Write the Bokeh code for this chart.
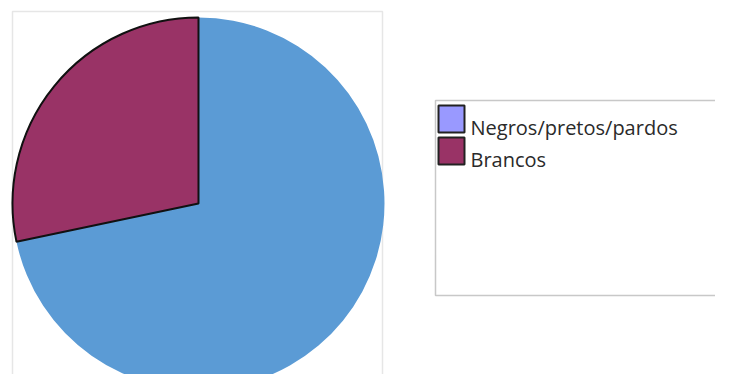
import numpy as np
from bokeh.plotting import figure
from bokeh.models import Range1d, ColumnDataSource
from bokeh.core.properties import value
from bokeh.embed import file_html
from bokeh.resources import INLINE

# data
categories = ["Negros/pretos/pardos", "Brancos"]
shares = [71.7, 28.3]
slice_colors = ["#5B9BD5", "#993366"]
legend_colors = ["#9999FF", "#993366"]

W, H = 715, 374
p = figure(width=W, height=H, output_backend="svg", toolbar_location=None,
           x_range=Range1d(0, W), y_range=Range1d(0, H),
           min_border=0, outline_line_color=None)
p.axis.visible = False
p.grid.visible = False
p.background_fill_color = "white"
p.border_fill_color = "white"

# plot-area frame (light gray)
p.quad(left=[12], right=[382], top=[363], bottom=[-20],
       fill_color=None, line_color="#e6e6e6", line_width=1.5)

# pie: Brancos starts at 12 o'clock, going counter-clockwise
cx, cy, r = 198, 171, 186
fr = np.array(shares) / sum(shares) * 2 * np.pi
start_b = np.pi / 2
end_b = start_b + fr[1]
starts = [end_b, start_b]
ends = [start_b + 2 * np.pi, end_b]
src = ColumnDataSource(dict(start=starts, end=ends, color=slice_colors,
                            lc=[None, "#111111"], cat=categories))
p.wedge(x=cx, y=cy, radius=r, start_angle="start", end_angle="end",
        fill_color="color", line_color="lc", line_width=2, source=src)

# legend box
p.quad(left=[435], right=[760], top=[274], bottom=[79],
       fill_color="white", line_color="#c8c8c8", line_width=1.5)
row_pitch = 32
tops = [269 - i * row_pitch for i in range(len(categories))]
p.quad(left=[438] * len(categories), right=[464] * len(categories),
       top=tops, bottom=[t - 27 for t in tops],
       fill_color=legend_colors, line_color="#222222", line_width=2)
p.text(x=[470] * len(categories), y=[t - 22 for t in tops], text=categories,
       text_font=value("Open Sans"), text_font_size="20px",
       text_color="#2a2a2a", text_baseline="alphabetic", text_align="left")

open("out.html", "w").write(file_html(p, INLINE))
